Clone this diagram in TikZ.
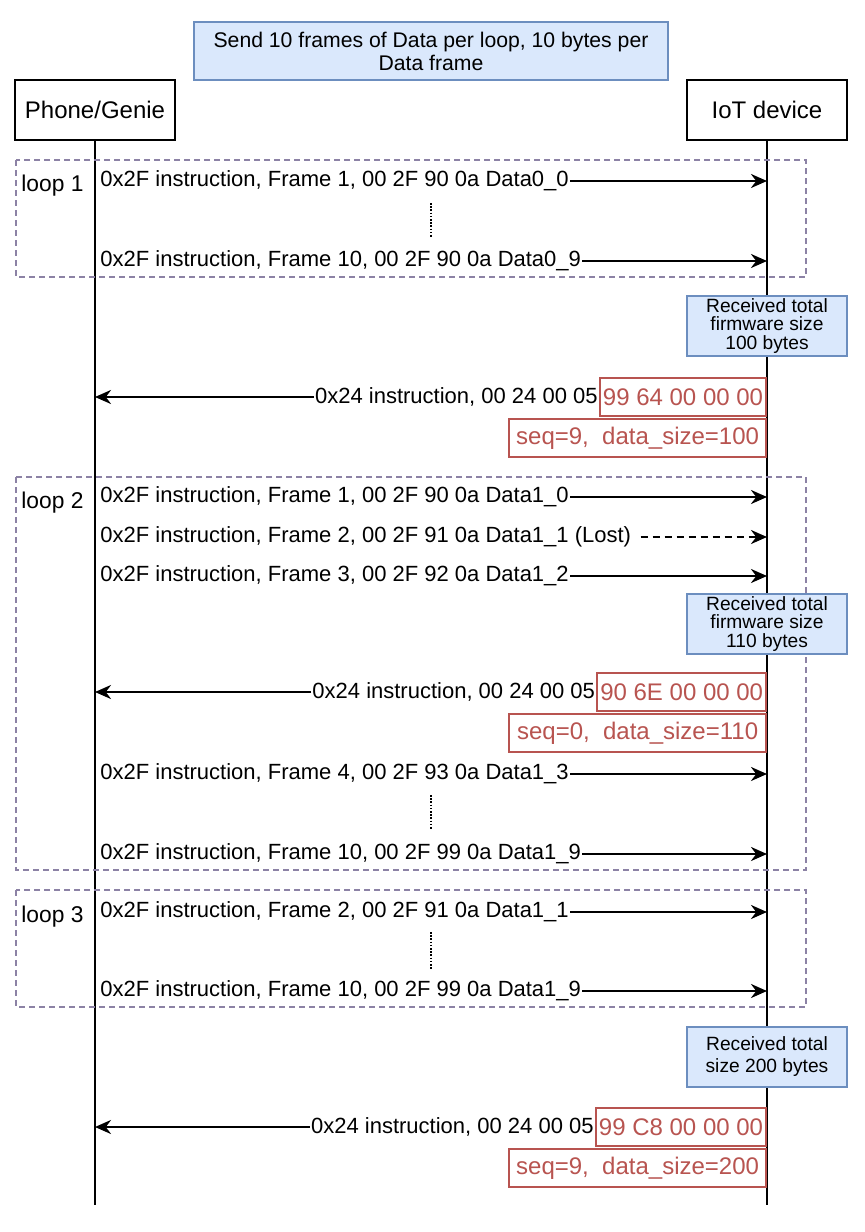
\documentclass[tikz,border=0pt]{standalone}
\usepackage{fontspec}
\setmainfont{Liberation Sans}
\usetikzlibrary{positioning}
\usetikzlibrary{arrows.meta}
\definecolor{noteblue}{HTML}{DAE8FC}
\definecolor{noteedge}{HTML}{6C8EBF}
\definecolor{hexred}{HTML}{B85450}
\definecolor{loopgray}{RGB}{140,130,165}

\tikzset{
  actor/.style={draw, line width=1pt, minimum width=80pt, minimum height=30pt,
    font=\fontsize{12}{14}\selectfont},
  life/.style={line width=1pt},
  msg/.style={font=\fontsize{11}{13}\selectfont, inner sep=0.5pt},
  fwd/.style={line width=1.2pt, -{Stealth[length=8pt,width=7pt]}},
  lost/.style={fwd, dash pattern=on 3.5pt off 2.5pt, shorten <=4pt},
  note/.style={draw=noteedge, fill=noteblue, line width=0.9pt, align=center,
    minimum width=80pt, minimum height=30pt, inner sep=1pt,
    font=\fontsize{9.6}{9.4}\selectfont},
  hexbox/.style={draw=hexred, text=hexred, fill=white, line width=0.9pt,
    minimum height=19pt, inner xsep=1.5pt, font=\fontsize{12}{14}\selectfont},
  loopframe/.style={draw=loopgray, line width=0.9pt, dash pattern=on 3pt off 2pt},
  looplabel/.style={font=\fontsize{11.4}{13}\selectfont, anchor=west, inner sep=0pt},
  dots/.style={line width=0.8pt, dash pattern=on 0.8pt off 0.8pt}
}

\begin{document}
\begin{tikzpicture}[x=0.5pt,y=-0.5pt]
\useasboundingbox (0,0) rectangle (864,1232);

%---------------------------------------
% Lifelines
%---------------------------------------
\def\xPh{95}
\def\xIoT{767}
\def\yEnd{1205}

\node[draw=noteedge, fill=noteblue, line width=0.9pt, minimum width=237pt,
  minimum height=29pt, align=center, font=\fontsize{10.6}{11.5}\selectfont]
  (title) at (431,51) {Send 10 frames of Data per loop, 10 bytes per\\Data frame};

\node[actor] (phone) at (\xPh,110) {Phone/Genie};
\node[actor] (iot) at (\xIoT,110) {IoT device};
\coordinate (phoneEnd) at (\xPh,\yEnd);
\coordinate (iotEnd) at (\xIoT,\yEnd);
\draw[life] (phone) -- (phoneEnd);
\draw[life] (iot) -- (iotEnd);

%---------------------------------------
% Loop frames
%---------------------------------------
\draw[loopframe] (16,160) rectangle (806,277);
\draw[loopframe] (16,477) rectangle (806,870);
\draw[loopframe] (16,890) rectangle (806,1007);
\node[looplabel] (loopA) at (21,186) {loop 1};
\node[looplabel] (loopB) at (21,503) {loop 2};
\node[looplabel] (loopC) at (21,917) {loop 3};

%---------------------------------------
% Loop 1
%---------------------------------------
\node[msg, anchor=west] (mA1) at (99,181) {0x2F instruction, Frame 1, 00 2F 90 0a Data0\_0};
\node[msg, anchor=west] (mA2) at (99,261) {0x2F instruction, Frame 10, 00 2F 90 0a Data0\_9};
\draw[fwd] (mA1.east) -- (mA1.east -| iot.south);
\draw[fwd] (mA2.east) -- (mA2.east -| iot.south);
\draw[dots] (431,203) -- (431,238);

\node[note] (rcvA) at (\xIoT,326) {Received total\\firmware size\\100 bytes};

\node[hexbox, anchor=east] (hexA) at (\xIoT,397) {99 64 00 00 00};
\node[hexbox, anchor=north east, minimum width=128.5pt] (seqA) at ([yshift=-0.5pt]hexA.south east) {seq=9,\ \ data\_size=100};
\node[msg, left=0pt of hexA] (rA) {0x24 instruction, 00 24 00 05};
\draw[fwd] (rA.west) -- (rA.west -| phone.south);

%---------------------------------------
% Loop 2
%---------------------------------------
\node[msg, anchor=west] (mB1) at (99,497) {0x2F instruction, Frame 1, 00 2F 90 0a Data1\_0};
\node[msg, anchor=west] (mB2) at (99,537) {0x2F instruction, Frame 2, 00 2F 91 0a Data1\_1 (Lost)};
\node[msg, anchor=west] (mB3) at (99,576) {0x2F instruction, Frame 3, 00 2F 92 0a Data1\_2};
\draw[fwd] (mB1.east) -- (mB1.east -| iot.south);
\draw[lost] (mB2.east) -- (mB2.east -| iot.south);
\draw[fwd] (mB3.east) -- (mB3.east -| iot.south);

\node[note] (rcvB) at (\xIoT,624) {Received total\\firmware size\\110 bytes};

\node[hexbox, anchor=east] (hexB) at (\xIoT,692) {90 6E 00 00 00};
\node[hexbox, anchor=north east, minimum width=128.5pt] (seqB) at ([yshift=-0.5pt]hexB.south east) {seq=0,\ \ data\_size=110};
\node[msg, left=0pt of hexB] (rB) {0x24 instruction, 00 24 00 05};
\draw[fwd] (rB.west) -- (rB.west -| phone.south);

\node[msg, anchor=west] (mB4) at (99,774) {0x2F instruction, Frame 4, 00 2F 93 0a Data1\_3};
\node[msg, anchor=west] (mB5) at (99,854) {0x2F instruction, Frame 10, 00 2F 99 0a Data1\_9};
\draw[fwd] (mB4.east) -- (mB4.east -| iot.south);
\draw[fwd] (mB5.east) -- (mB5.east -| iot.south);
\draw[dots] (431,795) -- (431,830);

%---------------------------------------
% Loop 3
%---------------------------------------
\node[msg, anchor=west] (mC1) at (99,912) {0x2F instruction, Frame 2, 00 2F 91 0a Data1\_1};
\node[msg, anchor=west] (mC2) at (99,991) {0x2F instruction, Frame 10, 00 2F 99 0a Data1\_9};
\draw[fwd] (mC1.east) -- (mC1.east -| iot.south);
\draw[fwd] (mC2.east) -- (mC2.east -| iot.south);
\draw[dots] (431,932) -- (431,969);

\node[note, font=\fontsize{9.6}{11}\selectfont] (rcvC) at (\xIoT,1057) {Received total\\size 200 bytes};

\node[hexbox, anchor=east] (hexC) at (\xIoT,1127) {99 C8 00 00 00};
\node[hexbox, anchor=north east, minimum width=128.5pt] (seqC) at ([yshift=-0.5pt]hexC.south east) {seq=9,\ \ data\_size=200};
\node[msg, left=0pt of hexC] (rC) {0x24 instruction, 00 24 00 05};
\draw[fwd] (rC.west) -- (rC.west -| phone.south);

\end{tikzpicture}
\end{document}
